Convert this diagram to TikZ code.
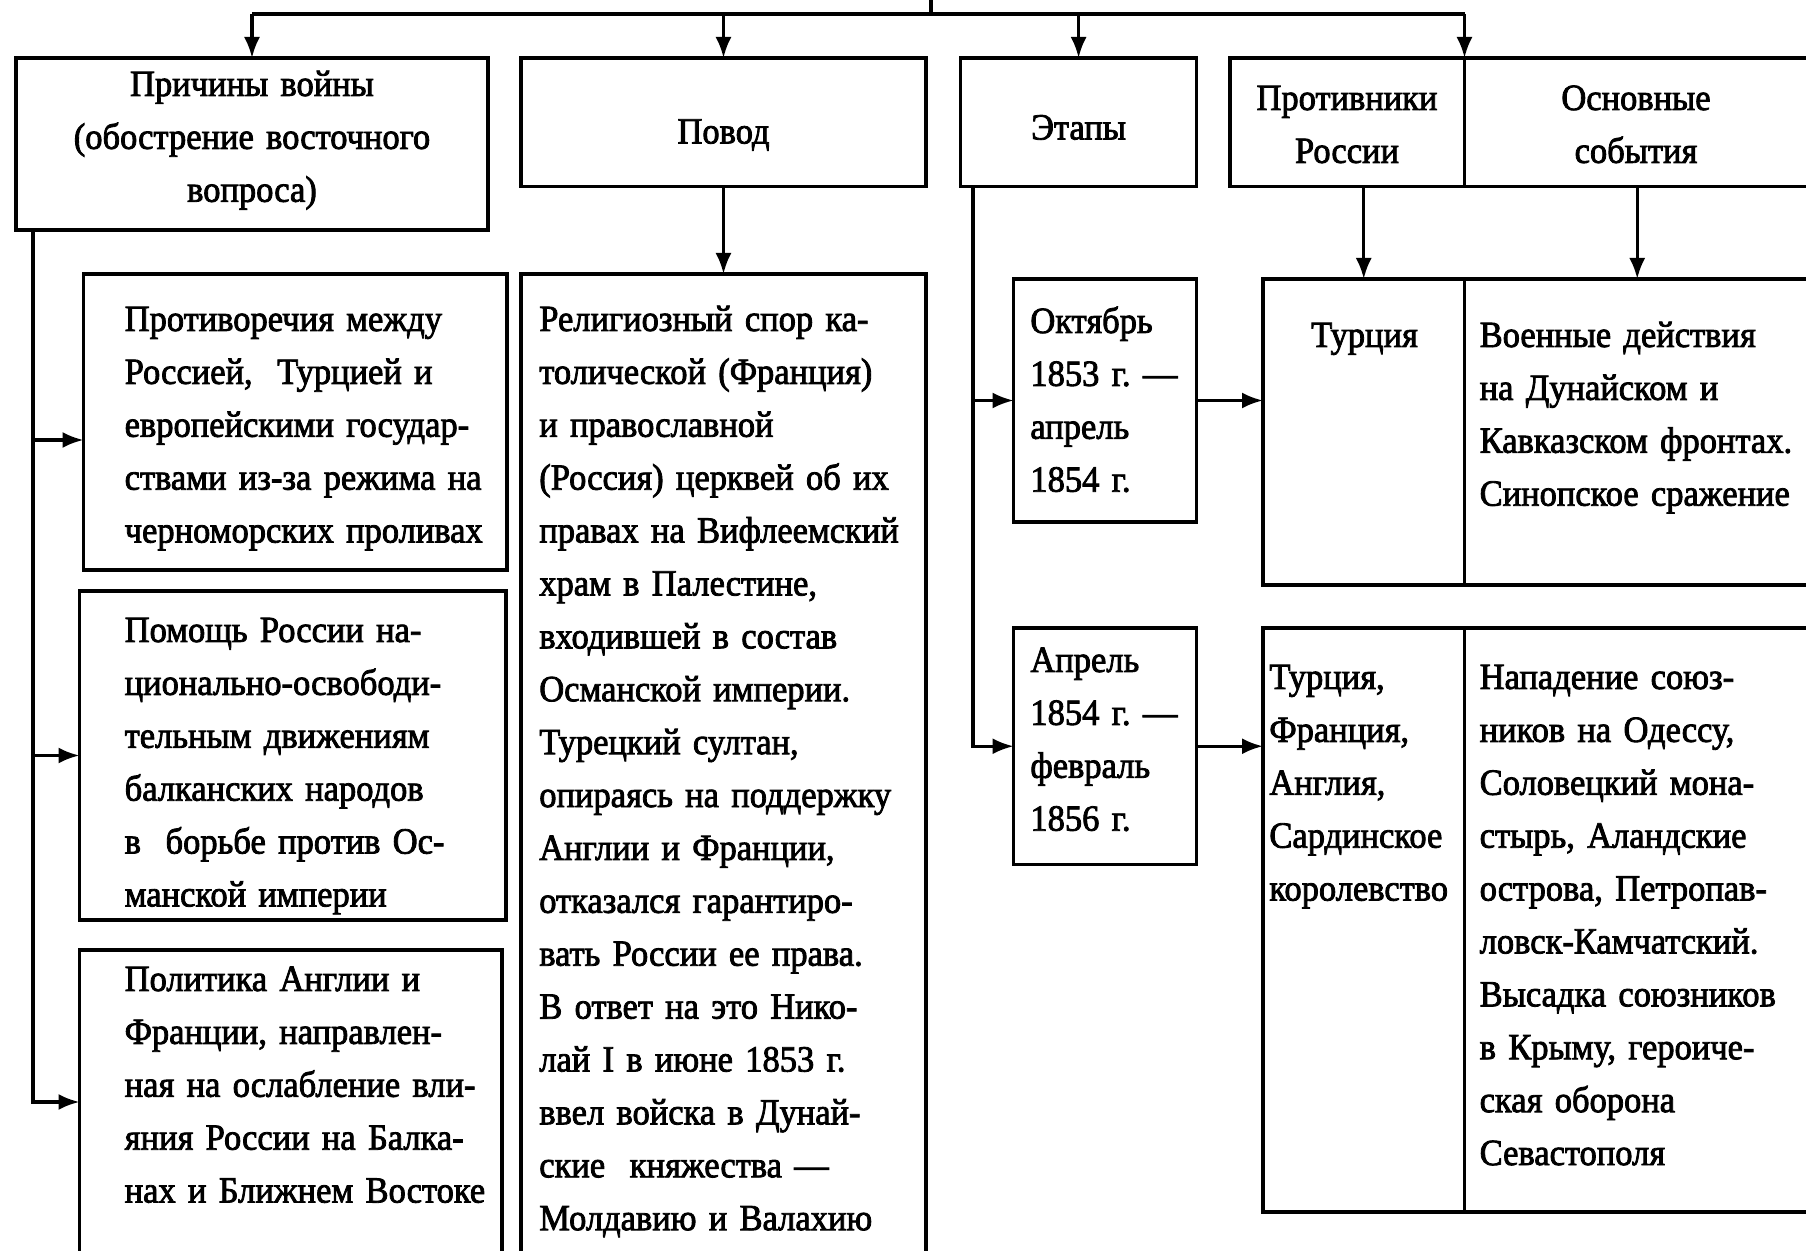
\documentclass[tikz,border=0pt]{standalone}
\usepackage{fontspec}
\setmainfont{Liberation Serif}[FakeStretch=0.935,FakeBold=2.2]
\usetikzlibrary{arrows.meta}
\frenchspacing
\newcommand\txtfont{\fontsize{10.5}{15.05}\selectfont}
\tikzset{
  box/.style={draw, rectangle, line width=1pt, inner sep=0pt, outer sep=0pt, anchor=north west},
  txt/.style={font=\txtfont, inner sep=0pt, align=left, anchor=base west, text width=4.5cm},
  ctxt/.style={font=\txtfont, inner sep=0pt, align=center, anchor=base, text width=4.5cm},
  arr/.style={-{Latex[length=2.1mm,width=1.6mm]}, line width=0.9pt}
}

\begin{document}
\begin{tikzpicture}
			%%%%% START %%%%%
			\useasboundingbox (0,0) rectangle (18.06,-12.51);
			
			% header row
			\node[box, minimum width=4.72cm, minimum height=1.72cm] (prichiny) at (0.16,-0.58) {};
			\node[box, minimum width=4.05cm, minimum height=1.285cm] (povod) at (5.21,-0.58) {};
			\node[box, minimum width=2.36cm, minimum height=1.285cm] (etapy) at (9.606,-0.58) {};
			\node[box, minimum width=2.345cm, minimum height=1.285cm] (protivniki) at (12.30,-0.58) {};
			\node[box, minimum width=3.455cm, minimum height=1.285cm] (sobytiya) at (14.645,-0.58) {};
			
			\node[ctxt] (prichinytxt) at (2.52,-0.96) {Причины войны\\(обострение восточного\\вопроса)};
			\node[ctxt] (povodtxt) at (7.235,-1.435) {Повод};
			\node[ctxt] (etapytxt) at (10.786,-1.395) {Этапы};
			\node[ctxt] (protivnikitxt) at (13.47,-1.10) {Противники\\России};
			\node[ctxt] (sobytiyatxt) at (16.36,-1.10) {Основные\\события};
			
			% causes
			\node[box, minimum width=4.235cm, minimum height=2.96cm] (cause1) at (0.835,-2.74) {};
			\node[box, minimum width=4.265cm, minimum height=3.29cm] (cause2) at (0.795,-5.91) {};
			\node[box, minimum width=4.225cm, minimum height=3.04cm] (cause3) at (0.795,-9.50) {};
			
			\node[txt] (cause1txt) at (1.24,-3.31) {Противоречия между\\Россией,\ \ Турцией и\\европейскими государ-\\ствами из-за режима на\\черноморских проливах};
			\node[txt] (cause2txt) at (1.24,-6.42) {Помощь России на-\\ционально-освободи-\\тельным движениям\\балканских народов\\в\ \ борьбе против Ос-\\манской империи};
			\node[txt] (cause3txt) at (1.24,-9.91) {Политика Англии и\\Франции, направлен-\\ная на ослабление вли-\\яния России на Балка-\\нах и Ближнем Востоке};
			
			% pretext
			\node[box, minimum width=4.05cm, minimum height=9.96cm] (povodbox) at (5.21,-2.74) {};
			\node[txt] (povodboxtxt) at (5.386,-3.31) {Религиозный спор ка-\\толической (Франция)\\и православной\\(Россия) церквей об их\\правах на Вифлеемский\\храм в Палестине,\\входившей в состав\\Османской империи.\\Турецкий султан,\\опираясь на поддержку\\Англии и Франции,\\отказался гарантиро-\\вать России ее права.\\В ответ на это Нико-\\лай I в июне 1853 г.\\ввел войска в Дунай-\\ские\ \ княжества —\\Молдавию и Валахию};
			
			% stages
			\node[box, minimum width=1.831cm, minimum height=2.43cm] (stage1) at (10.136,-2.79) {};
			\node[box, minimum width=1.831cm, minimum height=2.365cm] (stage2) at (10.136,-6.28) {};
			\node[txt, text width=2cm] (stage1txt) at (10.297,-3.33) {Октябрь\\1853 г. —\\апрель\\1854 г.};
			\node[txt, text width=2cm] (stage2txt) at (10.297,-6.72) {Апрель\\1854 г. —\\февраль\\1856 г.};
			
			% opponents and events
			\node[box, minimum width=2.015cm, minimum height=3.06cm] (row1l) at (12.63,-2.79) {};
			\node[box, minimum width=3.455cm, minimum height=3.06cm] (row1r) at (14.645,-2.79) {};
			\node[box, minimum width=2.015cm, minimum height=5.84cm] (row2l) at (12.63,-6.28) {};
			\node[box, minimum width=3.455cm, minimum height=5.84cm] (row2r) at (14.645,-6.28) {};
			
			\node[ctxt, text width=2cm] (row1ltxt) at (13.645,-3.47) {Турция};
			\node[txt] (row1rtxt) at (14.79,-3.47) {Военные действия\\на Дунайском и\\Кавказском фронтах.\\Синопское сражение};
			\node[txt, text width=2cm] (row2ltxt) at (12.687,-6.89) {Турция,\\Франция,\\Англия,\\Сардинское\\королевство};
			\node[txt] (row2rtxt) at (14.79,-6.89) {Нападение союз-\\ников на Одессу,\\Соловецкий мона-\\стырь, Аландские\\острова, Петропав-\\ловск-Камчатский.\\Высадка союзников\\в Крыму, героиче-\\ская оборона\\Севастополя};
			
			% connectors
			\coordinate (top) at (9.31,0);
			\coordinate (bus) at (9.31,-0.14);
			\draw[line width=0.9pt] (top) -- (bus);
			\draw[line width=0.9pt] (prichiny.north |- bus) -- (protivniki.north east |- bus);
			\draw[arr] (prichiny.north |- bus) -- (prichiny.north);
			\draw[arr] (povod.north |- bus) -- (povod.north);
			\draw[arr] (etapy.north |- bus) -- (etapy.north);
			\draw[arr] (protivniki.north east |- bus) -- (protivniki.north east);
			
			\coordinate (ctrunk) at ([xshift=0.17cm]prichiny.south west);
			\coordinate (c1in) at ([yshift=-0.18cm]cause1.west);
			\draw[arr] (ctrunk) |- (cause3.west);
			\draw[arr] (ctrunk |- c1in) -- (c1in);
			\draw[arr] (ctrunk |- cause2.west) -- (cause2.west);
			
			\draw[arr] (povod.south) -- (povodbox.north);
			
			\coordinate (etrunk) at ([xshift=0.124cm]etapy.south west);
			\draw[arr] (etrunk) |- (stage2.west);
			\draw[arr] (etrunk |- stage1.west) -- (stage1.west);
			\draw[arr] (stage1.east) -- (stage1.east -| row1l.west);
			\draw[arr] (stage2.east) -- (stage2.east -| row2l.west);
			
			\draw[arr] (row1l.north |- protivniki.south) -- (row1l.north);
			\draw[arr] (sobytiya.south) -- (sobytiya.south |- row1r.north);
			%%%%% END %%%%%
\end{tikzpicture}
\end{document}
